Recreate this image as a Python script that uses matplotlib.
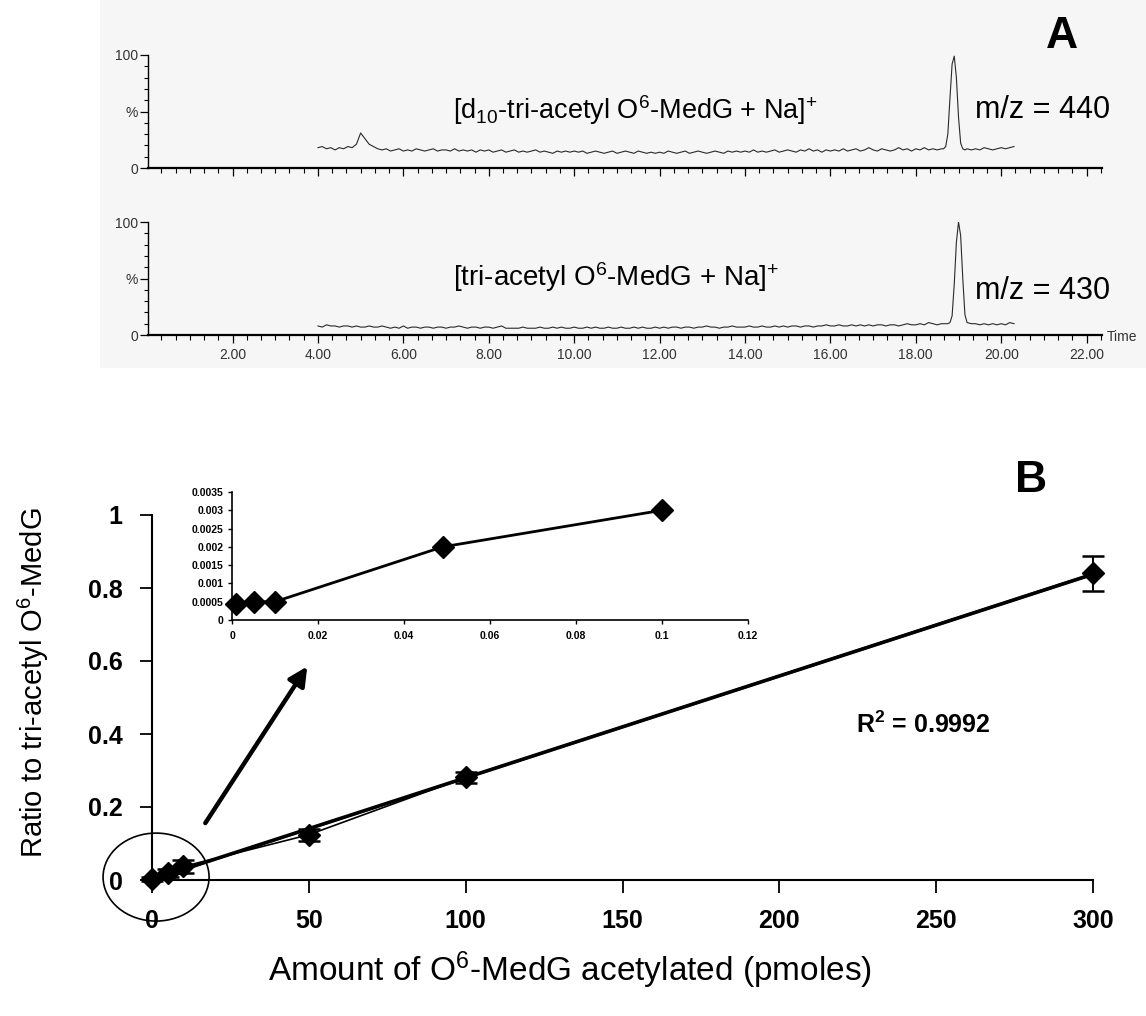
import numpy as np
import matplotlib
matplotlib.use("Agg")
import matplotlib.pyplot as plt
from matplotlib.patches import Rectangle, Ellipse
from matplotlib.ticker import MultipleLocator, FuncFormatter

plt.rcParams['font.family'] = ['Liberation Sans', 'DejaVu Sans']
plt.rcParams['mathtext.fontset'] = 'custom'
plt.rcParams['mathtext.rm'] = 'Liberation Sans'
plt.rcParams['mathtext.it'] = 'Liberation Sans:italic'
plt.rcParams['mathtext.bf'] = 'Liberation Sans:bold'

# ---------------- Panel A data (chromatograms, % intensity) ----------------
top_t = np.concatenate([np.linspace(4.0, 18.5, 146),
                        np.linspace(18.6, 19.2, 13),
                        np.linspace(19.3, 20.3, 11)])
top_pct = [18, 19, 17, 18, 16, 18, 17, 19, 18, 21,
           31, 26, 21, 19, 17, 16, 17, 15, 16, 17,
           15, 16, 15, 17, 16, 15, 16, 17, 15, 16,
           16, 15, 17, 15, 16, 15, 16, 14, 16, 15,
           16, 14, 15, 16, 14, 15, 16, 14, 15, 14,
           15, 16, 14, 15, 14, 13, 15, 14, 15, 14,
           15, 14, 15, 13, 14, 15, 14, 13, 14, 15,
           13, 14, 15, 14, 13, 15, 14, 13, 14, 13,
           14, 13, 15, 14, 13, 14, 15, 13, 14, 15,
           14, 13, 14, 15, 14, 13, 15, 14, 15, 14,
           15, 14, 16, 14, 15, 14, 15, 16, 14, 15,
           16, 15, 14, 16, 15, 17, 15, 16, 14, 16,
           15, 16, 15, 17, 15, 16, 17, 15, 16, 18,
           16, 15, 17, 16, 15, 16, 18, 16, 17, 15,
           17, 16, 18, 16, 17, 16,
           17, 17, 19, 30, 62, 92, 99, 80, 45, 22, 17, 16, 17,
           16, 17, 16, 18, 17, 16, 17, 18, 17, 18, 19]

bot_t = np.concatenate([np.linspace(4.0, 18.7, 148),
                        np.linspace(18.75, 19.2, 10),
                        np.linspace(19.3, 20.3, 11)])
bot_pct = [8, 7, 9, 8, 8, 7, 8, 8, 7, 8,
           7, 7, 8, 7, 7, 8, 7, 6, 7, 6,
           8, 6, 7, 7, 6, 7, 7, 6, 7, 7,
           6, 7, 7, 8, 7, 6, 7, 7, 6, 7,
           7, 6, 7, 8, 6, 6, 6, 6, 7, 6,
           6, 6, 7, 6, 6, 7, 6, 7, 6, 6,
           7, 6, 6, 7, 6, 7, 6, 6, 7, 6,
           6, 7, 6, 6, 7, 6, 7, 6, 6, 7,
           6, 7, 6, 7, 7, 6, 7, 7, 6, 7,
           7, 8, 7, 7, 6, 7, 7, 8, 7, 7,
           7, 8, 7, 7, 8, 7, 7, 8, 7, 8,
           7, 8, 8, 7, 8, 8, 7, 8, 8, 9,
           8, 8, 9, 8, 8, 9, 8, 9, 8, 9,
           8, 9, 9, 8, 9, 9, 8, 9, 10, 9,
           9, 10, 9, 11, 10, 9, 10, 10,
           10, 11, 17, 45, 82, 100, 88, 50, 18, 11,
           10, 10, 9, 10, 9, 10, 9, 10, 9, 11, 10]

time_ticks = [2, 4, 6, 8, 10, 12, 14, 16, 18, 20, 22]
time_labels = ["2.00", "4.00", "6.00", "8.00", "10.00", "12.00",
               "14.00", "16.00", "18.00", "20.00", "22.00"]

# ---------------- Panel B data ----------------
amount = [0, 5, 10, 50, 100, 300]
ratio = [0.003, 0.019, 0.037, 0.124, 0.281, 0.84]
ratio_err = [0.005, 0.01, 0.018, 0.017, 0.016, 0.047]

inset_amount = [0.001, 0.005, 0.01, 0.049, 0.1]
inset_ratio = [0.00045, 0.0005, 0.0005, 0.002, 0.003]

W, H = 1146, 1016
fig = plt.figure(figsize=(W / 100, H / 100), dpi=100)


def fx(px):
    return px / W


def fy(py):
    return 1 - py / H


# light grey background of panel A
bg = Rectangle((fx(100), fy(368)), 1 - fx(100), fy(0) - fy(368),
               transform=fig.transFigure, facecolor='#f6f6f6',
               edgecolor='none', zorder=-10)
fig.add_artist(bg)

grey = '#333333'


def chrom_axes(top_px, bottom_px, t, pct, show_labels):
    ax = fig.add_axes([fx(148), fy(bottom_px), fx(1102) - fx(148), (bottom_px - top_px) / H])
    ax.set_zorder(2)
    ax.patch.set_alpha(0)
    ax.plot(t, pct, color='#2a2a2a', lw=0.8)
    ax.set_xlim(0.02, 22.36)
    ax.set_ylim(0, 100)
    for s in ['top', 'right']:
        ax.spines[s].set_visible(False)
    ax.spines['left'].set_linewidth(1.0)
    ax.spines['bottom'].set_linewidth(1.6)
    ax.set_yticks([0, 50, 100])
    ax.set_yticklabels(['0', '%', '100'])
    ax.yaxis.set_minor_locator(MultipleLocator(10))
    ax.set_xticks(time_ticks)
    ax.xaxis.set_minor_locator(MultipleLocator(1 / 3))
    if show_labels:
        ax.set_xticklabels(time_labels)
    else:
        ax.set_xticklabels([])
    ax.tick_params(axis='y', which='major', length=6, width=0.9, pad=1,
                   labelsize=10, labelcolor=grey)
    ax.tick_params(axis='y', which='minor', length=3, width=0.8)
    ax.tick_params(axis='x', which='major', length=6, width=0.9, pad=3,
                   labelsize=10, labelcolor=grey)
    ax.tick_params(axis='x', which='minor', length=3.5, width=0.8)
    return ax


axA1 = chrom_axes(55, 168, top_t, top_pct, False)
axA2 = chrom_axes(222, 335, bot_t, bot_pct, True)

fig.text(fx(453), fy(110), r"[d$_{10}$-tri-acetyl O$^{6}$-MedG + Na]$^{+}$",
         fontsize=19.5, ha='left', va='center')
fig.text(fx(975), fy(110), "m/z = 440", fontsize=22, ha='left', va='center')
fig.text(fx(453), fy(277), r"[tri-acetyl O$^{6}$-MedG + Na]$^{+}$",
         fontsize=20, ha='left', va='center')
fig.text(fx(975), fy(291), "m/z = 430", fontsize=22, ha='left', va='center')
fig.text(fx(1107), fy(337), "Time", fontsize=10, color=grey, ha='left', va='center')
fig.text(fx(1062), fy(36), "A", fontsize=32, fontweight='bold', ha='center', va='center')
fig.text(fx(1031), fy(480), "B", fontsize=32, fontweight='bold', ha='center', va='center')

# ---------------- Panel B ----------------
axB = fig.add_axes([fx(152), fy(880), fx(1093) - fx(152), (880 - 515) / H])
axB.patch.set_alpha(0)
axB.set_xlim(0, 300)
axB.set_ylim(0, 1)
for s in ['top', 'right']:
    axB.spines[s].set_visible(False)
for s in ['left', 'bottom']:
    axB.spines[s].set_linewidth(1.5)
axB.set_xticks([0, 50, 100, 150, 200, 250, 300])
axB.set_yticks([0, 0.2, 0.4, 0.6, 0.8, 1.0])
axB.yaxis.set_major_formatter(FuncFormatter(lambda v, p: '%g' % v))
axB.tick_params(length=9, width=1.3, pad=12, labelsize=18)
for lab in axB.get_xticklabels() + axB.get_yticklabels():
    lab.set_fontweight('bold')

slope, intercept = np.polyfit(amount, ratio, 1)
fit_x = np.array([0, 300])
axB.plot(fit_x, slope * fit_x + intercept - 0.002, color='#a0306a', lw=1.2, zorder=2)
axB.plot(fit_x, slope * fit_x + intercept, color='k', lw=2.6, zorder=3)
axB.plot(amount, ratio, color='k', lw=1.2, zorder=3)
axB.errorbar(amount, ratio, yerr=ratio_err, fmt='none', ecolor='k',
             elinewidth=1.4, capsize=8, capthick=1.8, zorder=4, clip_on=False)
axB.plot(amount, ratio, linestyle='none', marker='D', ms=11, color='k',
         zorder=5, clip_on=False)

axB.text(246, 0.425, r"R$^{\mathbf{2}}$ = 0.9992", fontsize=18, fontweight='bold',
         ha='center', va='center')

# circle round the origin and arrow to the inset
axB.add_patch(Ellipse((1.3, 0.008), 33.8, 0.241, fill=False, edgecolor='k',
                      lw=1.2, clip_on=False, zorder=6))
axB.annotate("", xy=(49.5, 0.585), xytext=(17, 0.156),
             arrowprops=dict(arrowstyle='-|>', lw=3.2, color='k',
                             mutation_scale=28, shrinkA=0, shrinkB=0))

fig.text(fx(33), fy(683), r"Ratio to tri-acetyl O$^{6}$-MedG", fontsize=21,
         rotation=90, ha='center', va='center')
fig.text(fx(570), fy(970), r"Amount of O$^{6}$-MedG acetylated (pmoles)",
         fontsize=24, ha='center', va='center')

# inset
axI = fig.add_axes([fx(232), fy(620), fx(748) - fx(232), (620 - 492) / H])
axI.patch.set_alpha(0)
axI.set_xlim(0, 0.12)
axI.set_ylim(0, 0.0035)
for s in ['top', 'right']:
    axI.spines[s].set_visible(False)
for s in ['left', 'bottom']:
    axI.spines[s].set_linewidth(1.2)
axI.set_xticks([0, 0.02, 0.04, 0.06, 0.08, 0.1, 0.12])
axI.set_yticks([0, 0.0005, 0.001, 0.0015, 0.002, 0.0025, 0.003, 0.0035])
axI.xaxis.set_major_formatter(FuncFormatter(lambda v, p: '%g' % v))
axI.yaxis.set_major_formatter(FuncFormatter(lambda v, p: '%g' % v))
axI.tick_params(length=3, width=1.0, pad=3, labelsize=7.5)
axI.tick_params(axis='x', pad=5)
for lab in axI.get_xticklabels() + axI.get_yticklabels():
    lab.set_fontweight('bold')
axI.plot(inset_amount, inset_ratio, color='k', lw=2.0, zorder=3)
axI.plot(inset_amount, inset_ratio, linestyle='none', marker='D', ms=11,
         color='k', zorder=4, clip_on=False)

fig.savefig("out.png", dpi=100, facecolor='white')
